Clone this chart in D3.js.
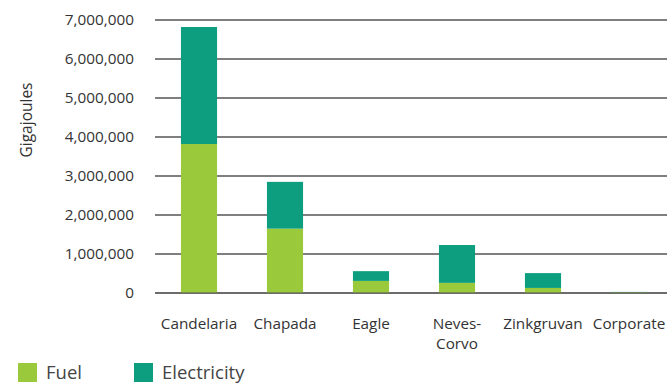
<!DOCTYPE html>
<html>
<head>
<meta charset="utf-8">
<script src="https://cdn.jsdelivr.net/npm/d3@7"></script>
<style>
  body { margin: 0; background: #fff; }
  svg { display: block; }
  svg text { font-family: "Open Sans", sans-serif; }
  .tick text { fill: #333; font-size: 15.3px; }
</style>
</head>
<body>
<svg id="chart" width="667" height="384"></svg>
<script>
// data
const sites = ['Candelaria', 'Chapada', 'Eagle', 'Neves-Corvo', 'Zinkgruvan', 'Corporate'];
const fuel = [3820000, 1650000, 310000, 260000, 130000, 20000];
const electricity = [3000000, 1200000, 250000, 970000, 380000, 8000];
const yTicks = [0, 1000000, 2000000, 3000000, 4000000, 5000000, 6000000, 7000000];
const seriesNames = ['Fuel', 'Electricity'];
const colours = ['#9bc93c', '#0c9e7e'];

const margin = {left: 156, right: -5, top: 20, bottom: 91};
const W = 667, H = 384;
const svg = d3.select('#chart');
const g = svg.append('g').attr('transform', `translate(${margin.left}, ${margin.top})`);
const w = W - margin.left - margin.right, h = H - margin.top - margin.bottom;

const table = sites.map((s, i) => ({site: s, Fuel: fuel[i], Electricity: electricity[i]}));
const stacked = d3.stack().keys(seriesNames)(table);

const x = d3.scaleBand().domain(sites).range([0, w]).paddingInner(0.58).paddingOuter(0.29);
const y = d3.scaleLinear().domain([0, 7000000]).range([h, 0]);

// grid lines
g.append('g')
  .attr('class', 'grid')
  .selectAll('line')
  .data(yTicks)
  .join('line')
  .attr('x1', -1).attr('x2', w + 10)
  .attr('y1', d => y(d)).attr('y2', d => y(d))
  .attr('stroke', '#555').attr('stroke-width', 1.4);

// y axis labels
const yAxis = d3.axisLeft(y).tickValues(yTicks).tickFormat(d3.format(',')).tickSize(0).tickPadding(22);
g.append('g').call(yAxis).attr('font-family', null).select('.domain').remove();

// bars
g.selectAll('.layer')
  .data(stacked)
  .join('g')
  .attr('class', 'layer')
  .attr('fill', (d, i) => colours[i])
  .selectAll('rect')
  .data(d => d)
  .join('rect')
  .attr('x', d => x(d.data.site))
  .attr('width', x.bandwidth())
  .attr('y', d => y(d[1]))
  .attr('height', d => y(d[0]) - y(d[1]));

// baseline over bars
g.append('line')
  .attr('x1', -1).attr('x2', w + 10)
  .attr('y1', y(0)).attr('y2', y(0))
  .attr('stroke', '#5e5e5e').attr('stroke-width', 1.4)
  .attr('stroke-opacity', 0.75);

// x labels
const xAxis = d3.axisBottom(x).tickSize(0).tickPadding(30);
const xa = g.append('g').attr('transform', `translate(0, ${h})`).call(xAxis).attr('font-family', null);
xa.select('.domain').remove();
xa.selectAll('.tick text')
  .attr('dy', 0)
  .text(null)
  .each(function(d) {
    const parts = d === 'Neves-Corvo' ? ['Neves-', 'Corvo'] : [d];
    const t = d3.select(this);
    parts.forEach((p, i) => {
      t.append('tspan').attr('x', 0).attr('dy', i === 0 ? '0.71em' : '1.3em').text(p);
    });
  });
xa.selectAll('.tick text').attr('y', 25);

// y title
svg.append('text')
  .attr('transform', 'translate(32, 120) rotate(-90)')
  .attr('text-anchor', 'middle')
  .attr('font-size', 15.5)
  .attr('fill', '#333')
  .text('Gigajoules');

// legend
const legend = svg.append('g').attr('transform', 'translate(18, 363)');
const items = legend.selectAll('g')
  .data(seriesNames)
  .join('g')
  .attr('transform', (d, i) => `translate(${i * 116}, 0)`);
items.append('rect').attr('width', 19).attr('height', 19).attr('fill', (d, i) => colours[i]);
items.append('text')
  .attr('x', 28).attr('y', 16)
  .attr('font-size', 18.5)
  .attr('fill', '#444')
  .text(d => d);
</script>
</body>
</html>
